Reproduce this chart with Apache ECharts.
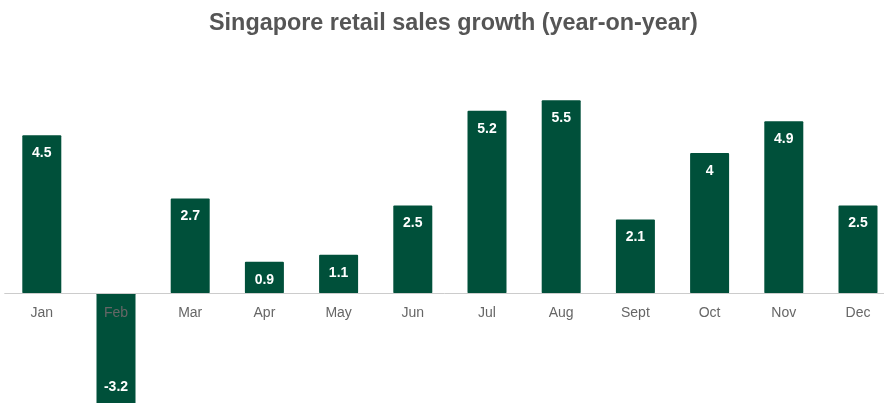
<!DOCTYPE html>
<html>
<head>
<meta charset="utf-8">
<script src="https://cdn.jsdelivr.net/npm/echarts@6/dist/echarts.min.js"></script>
<style>
  html, body { margin: 0; padding: 0; background: #fff; }
  #chart { width: 884px; height: 403px; }
</style>
</head>
<body>
<div id="chart"></div>
<script>
// Monthly year-on-year change in retail sales, per cent
const months = ['Jan', 'Feb', 'Mar', 'Apr', 'May', 'Jun', 'Jul', 'Aug', 'Sept', 'Oct', 'Nov', 'Dec'];
const growth = [4.5, -3.2, 2.7, 0.9, 1.1, 2.5, 5.2, 5.5, 2.1, 4, 4.9, 2.5];

const BAR = '#00503a';

const chart = echarts.init(document.getElementById('chart'), null, { renderer: 'canvas' });

chart.setOption({
  animation: false,
  title: {
    text: 'Singapore retail sales growth (year-on-year)',
    left: 204,
    top: 7,
    textStyle: {
      fontFamily: 'Liberation Sans, Arial, sans-serif',
      fontWeight: 'bold',
      fontSize: 23.4,
      color: '#555555'
    }
  },
  // grid spans 0..6; the plot runs a little past the right edge of the canvas
  grid: {
    left: 4.7, width: 890.4, top: 82.7, height: 210.6,
    containLabel: false, outerBoundsMode: 'none'
  },
  xAxis: {
    type: 'category',
    data: months,
    position: 'bottom',
    // drawn above the bars so the Feb name stays visible
    z: 10,
    axisLine: { show: true, lineStyle: { color: '#cccccc', width: 1 } },
    axisTick: { show: false },
    axisLabel: {
      margin: 13,
      fontFamily: 'Liberation Sans, Arial, sans-serif',
      fontSize: 14,
      color: '#666666'
    }
  },
  yAxis: {
    type: 'value',
    min: 0,
    max: 6,
    show: false,
    splitLine: { show: false }
  },
  series: [{
    type: 'bar',
    data: growth.map(v => ({
      value: v,
      label: { position: v < 0 ? 'insideBottom' : 'insideTop' }
    })),
    barWidth: 39,
    // the negative month reaches below the zero line
    clip: false,
    itemStyle: { color: BAR, borderRadius: 1 },
    label: {
      show: true,
      distance: 11,
      color: '#ffffff',
      fontFamily: 'Liberation Sans, Arial, sans-serif',
      fontWeight: 'bold',
      fontSize: 14
    }
  }]
});
</script>
</body>
</html>
